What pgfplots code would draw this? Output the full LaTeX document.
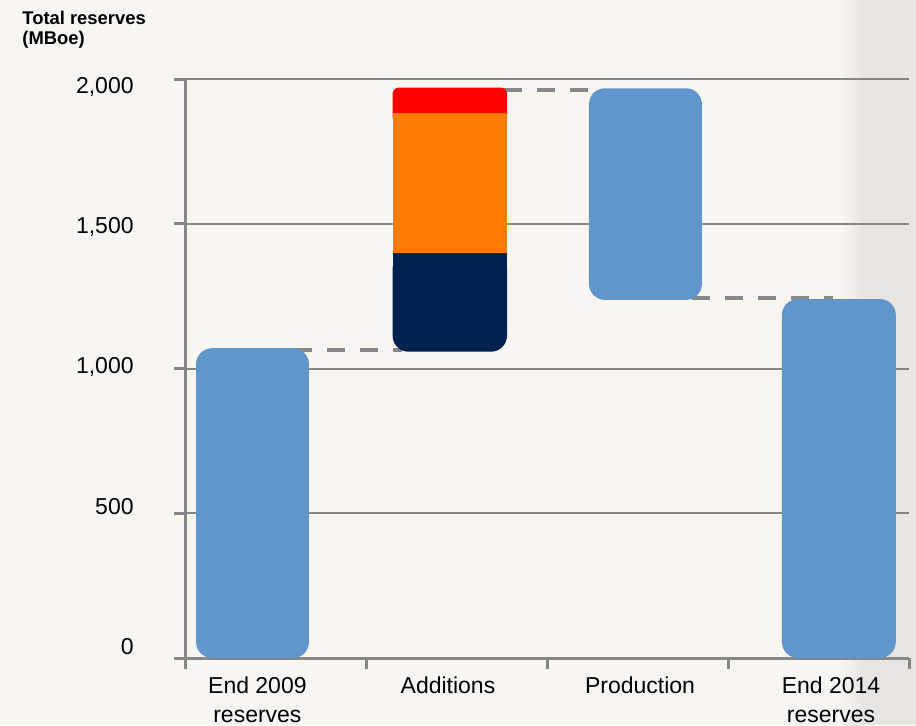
\documentclass[border=0pt]{standalone}
\usepackage{fontspec}
\setmainfont{Liberation Sans}
\usepackage{pgfplots}
\pgfplotsset{compat=1.18}
\definecolor{bg}{HTML}{F9F6F1}
\definecolor{strip}{HTML}{E8E4E0}
\definecolor{gridgray}{HTML}{878787}
\definecolor{barblue}{HTML}{6196CB}
\definecolor{navy}{HTML}{00214F}
\definecolor{orng}{HTML}{FF7C00}
\definecolor{rd}{HTML}{FF0000}
\begin{document}
\begin{tikzpicture}
\useasboundingbox (0,0) rectangle (458pt,362.5pt);
\fill[bg] (0,0) rectangle (458pt,362.5pt);
\shade[left color=bg, right color=strip] (420pt,0) rectangle (432pt,362.5pt);
\fill[strip] (432pt,0) rectangle (458pt,362.5pt);
\node[anchor=north west, inner sep=0pt, align=left, font=\fontsize{9.2}{10}\selectfont\bfseries] at (11pt,357pt) {Total reserves\\(MBoe)};
\begin{axis}[
  at={(92.5pt,33.5pt)}, anchor=south west,
  scale only axis, width=362pt, height=289.5pt,
  xmin=0, xmax=4, ymin=0, ymax=2000,
  clip=false,
  axis lines=left,
  axis line style={-, line width=1.5pt, color=gridgray},
  tick align=outside,
  tick style={gridgray, line width=1.5pt},
  major tick length=5.5pt,
  xtick={0,1,2,3,4},
  xticklabels={,,,,},
  ytick={0,500,1000,1500,2000},
  scaled y ticks=false,
  ymajorgrids,
  grid style={gridgray, line width=1pt},
  yticklabel style={font=\fontsize{11.5}{13}\selectfont, /pgf/number format/assume math mode=true, inner sep=0pt, xshift=-20pt, yshift={5.5pt-2.375pt*\ticknum}},
  extra x ticks={0.40,1.453,2.514,3.569},
  extra x tick labels={{End 2009\\reserves},Additions,Production,{End 2014\\reserves}},
  extra x tick style={major tick length=0pt, tick style={draw=none},
    xticklabel style={align=center, font=\fontsize{11.5}{14.5}\selectfont, anchor=north, inner sep=0pt, yshift=-9pt}},
]
% connectors
\addplot[gridgray, line width=2pt, dash pattern=on 9pt off 7.5pt] coordinates {(0.60,1063) (1.20,1063)};
\addplot[gridgray, line width=2pt, dash pattern=on 9pt off 7.5pt] coordinates {(1.76,1962) (2.27,1962)};
\addplot[gridgray, line width=2pt, dash pattern=on 9pt off 7.5pt] coordinates {(2.80,1245) (3.58,1245)};
% End 2009
\addplot[fill=barblue, draw=none, rounded corners=8pt] coordinates {(0.061,0) (0.685,0) (0.685,1070) (0.061,1070)} --cycle;
% Additions
\addplot[fill=navy, draw=none, rounded corners=8pt] coordinates {(1.147,1058) (1.779,1058) (1.779,1400) (1.147,1400)} --cycle;
\addplot[fill=navy, draw=none] coordinates {(1.147,1300) (1.779,1300) (1.779,1400) (1.147,1400)} --cycle;
\addplot[fill=rd, draw=none, rounded corners=3pt] coordinates {(1.147,1850) (1.779,1850) (1.779,1970) (1.147,1970)} --cycle;
\addplot[fill=orng, draw=none] coordinates {(1.147,1400) (1.779,1400) (1.779,1883) (1.147,1883)} --cycle;
% Production
\addplot[fill=barblue, draw=none, rounded corners=8pt] coordinates {(2.232,1237) (2.856,1237) (2.856,1968) (2.232,1968)} --cycle;
% End 2014
\addplot[fill=barblue, draw=none, rounded corners=8pt] coordinates {(3.298,0) (3.927,0) (3.927,1240) (3.298,1240)} --cycle;
\end{axis}
\end{tikzpicture}
\end{document}
